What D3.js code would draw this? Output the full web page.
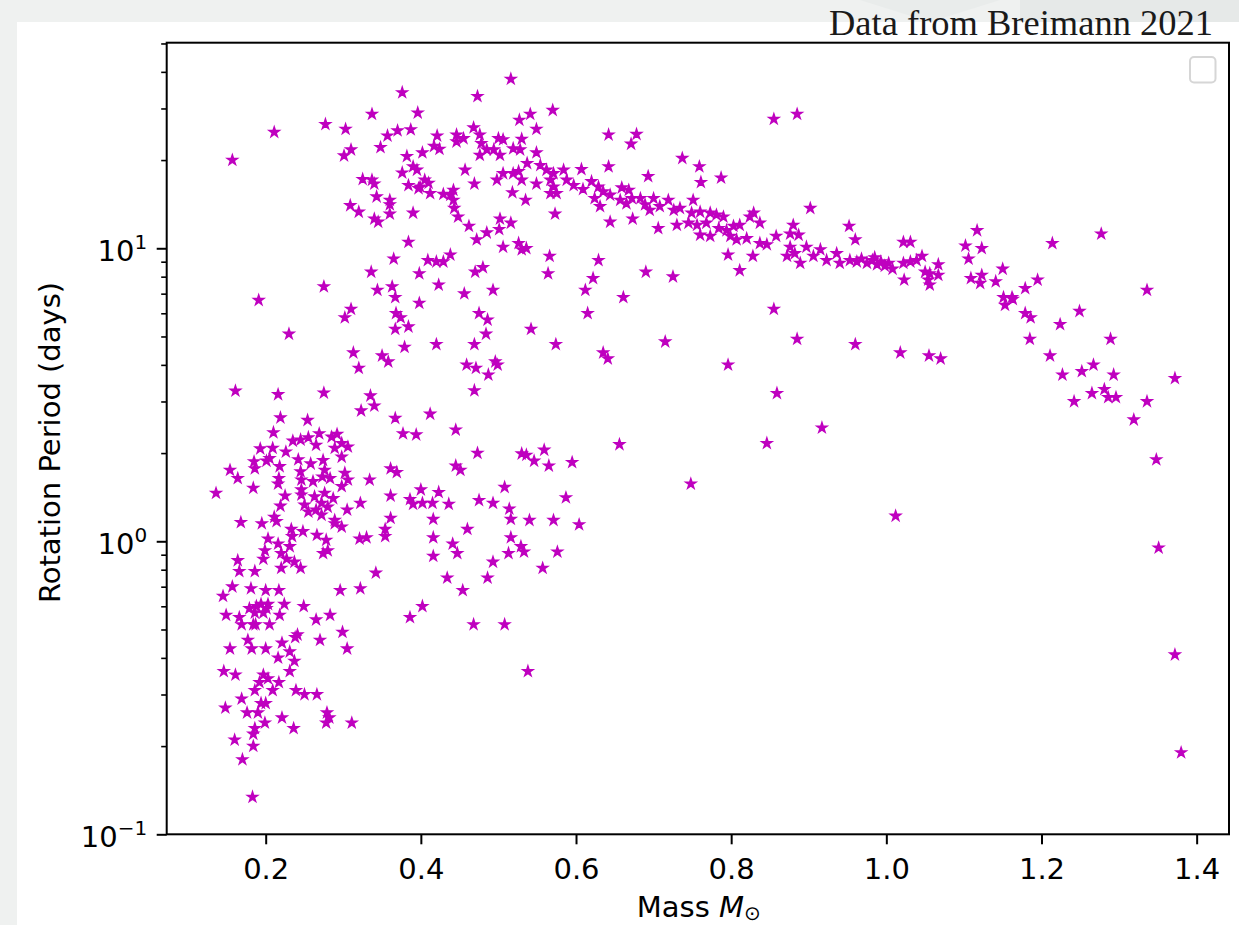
<!DOCTYPE html>
<html>
<head>
<meta charset="utf-8">
<script src="https://cdn.jsdelivr.net/npm/d3@7"></script>
<style>
body { margin: 0; background: #eff1f0; }
svg { display: block; }
</style>
</head>
<body>
<svg id="chart" width="1239" height="925"></svg>
<script>
// [mass (solar masses), rotation period (days)]
var lowMassStars = [
    [0.161,3.26],[0.216,3.17],[0.275,3.21],[0.335,3.14],[0.340,2.90],[0.323,2.79],[0.219,2.64],[0.254,2.59],
    [0.210,2.35],[0.269,2.33],[0.235,2.20],[0.245,2.22],[0.255,2.26],[0.265,2.13],[0.285,2.27],[0.292,2.32],
    [0.289,2.08],[0.298,2.16],[0.306,2.10],[0.193,2.07],[0.209,2.08],[0.226,2.02],[0.185,1.87],[0.201,1.88],
    [0.205,1.92],[0.242,1.90],[0.258,1.84],[0.274,1.89],[0.276,1.75],[0.298,1.94],[0.154,1.75],[0.164,1.64],
    [0.186,1.77],[0.218,1.80],[0.217,1.64],[0.216,1.57],[0.245,1.73],[0.246,1.62],[0.273,1.66],[0.283,1.64],
    [0.302,1.71],[0.306,1.62],[0.298,1.54],[0.334,1.62],[0.136,1.46],[0.184,1.52],[0.225,1.43],[0.246,1.50],
    [0.261,1.60],[0.246,1.44],[0.263,1.42],[0.276,1.46],[0.272,1.35],[0.287,1.40],[0.280,1.31],[0.322,1.35],
    [0.219,1.32],[0.250,1.33],[0.255,1.26],[0.265,1.28],[0.272,1.23],[0.289,1.18],[0.305,1.28],[0.168,1.16],
    [0.195,1.15],[0.211,1.21],[0.214,1.17],[0.233,1.10],[0.248,1.08],[0.289,1.15],[0.298,1.12],[0.266,1.05],
    [0.278,1.01],[0.203,1.02],[0.216,0.98],[0.234,1.04],[0.231,0.96],[0.199,0.93],[0.197,0.87],[0.220,0.91],
    [0.227,0.87],[0.237,0.85],[0.220,0.81],[0.245,0.81],[0.274,0.91],[0.280,0.93],[0.321,1.02],[0.330,1.03],
    [0.164,0.86],[0.166,0.79],[0.186,0.79],[0.342,0.78],[0.157,0.70],[0.181,0.69],[0.200,0.68],[0.217,0.68],
    [0.145,0.65],[0.296,0.68],[0.322,0.69]
];

var fastStars = [
    [0.179,0.59],[0.188,0.60],[0.194,0.61],[0.201,0.59],[0.197,0.57],[0.186,0.57],[0.203,0.61],[0.224,0.61],
    [0.249,0.60],[0.149,0.56],[0.166,0.55],[0.169,0.52],[0.184,0.52],[0.187,0.52],[0.205,0.52],[0.218,0.56],
    [0.265,0.54],[0.283,0.56],[0.299,0.49],[0.305,0.43],[0.270,0.46],[0.238,0.47],[0.241,0.48],[0.221,0.45],
    [0.177,0.46],[0.154,0.43],[0.182,0.43],[0.200,0.43],[0.216,0.40],[0.231,0.42],[0.237,0.39],[0.231,0.36],
    [0.146,0.36],[0.161,0.35],[0.197,0.35],[0.192,0.33],[0.203,0.34],[0.217,0.33],[0.209,0.31],[0.186,0.31],
    [0.239,0.31],[0.250,0.30],[0.266,0.30],[0.169,0.29],[0.194,0.28],[0.200,0.28],[0.148,0.27],[0.176,0.26],
    [0.190,0.26],[0.221,0.25],[0.199,0.24],[0.279,0.26],[0.282,0.25],[0.278,0.24],[0.311,0.24],[0.236,0.23],
    [0.186,0.23],[0.184,0.22],[0.160,0.21],[0.184,0.20],[0.170,0.18],[0.183,0.134],[0.538,0.36]
];

var slowStars = [
    [0.516,37.8],[0.376,34.0],[0.473,33.0],[0.337,28.7],[0.396,29.0],[0.570,29.6],[0.277,26.5],[0.303,25.5],
    [0.541,28.7],[0.527,27.4],[0.549,25.5],[0.357,24.2],[0.370,25.2],[0.387,25.4],[0.421,24.2],[0.468,25.8],
    [0.446,24.4],[0.455,23.7],[0.446,23.1],[0.476,24.4],[0.478,22.8],[0.500,23.7],[0.506,23.5],[0.530,23.6],
    [0.494,21.7],[0.502,20.8],[0.519,21.9],[0.528,21.7],[0.549,21.2],[0.348,22.1],[0.310,21.7],[0.301,20.7],
    [0.402,21.2],[0.417,22.3],[0.424,21.8],[0.382,20.6],[0.476,20.8],[0.485,21.7],[0.390,19.0],[0.395,18.5],
    [0.376,18.1],[0.457,18.5],[0.537,19.5],[0.554,19.2],[0.562,18.5],[0.571,18.0],[0.506,18.0],[0.519,18.0],
    [0.526,18.3],[0.498,17.1],[0.530,17.1],[0.549,16.6],[0.567,17.1],[0.571,16.2],[0.575,15.4],[0.567,15.4],
    [0.325,17.2],[0.337,17.1],[0.340,16.6],[0.384,16.4],[0.399,16.2],[0.405,17.1],[0.410,16.7],[0.397,16.0],
    [0.412,15.4],[0.429,15.3],[0.442,15.8],[0.438,15.2],[0.442,14.6],[0.469,16.6],[0.518,15.5],[0.535,14.6],
    [0.343,15.0],[0.360,14.6],[0.360,14.1],[0.309,14.0],[0.320,13.3],[0.340,12.6],[0.345,12.3],[0.360,13.1],
    [0.390,13.2],[0.443,13.7],[0.448,12.8],[0.462,11.9],[0.472,10.7],[0.485,11.3],[0.502,12.6],[0.501,11.6],
    [0.516,12.2],[0.573,13.1],[0.384,10.5],[0.506,10.1],[0.526,10.4],[0.530,9.9],[0.536,10.0],[0.566,9.4],
    [0.365,9.2],[0.409,9.1],[0.420,9.0],[0.429,9.0],[0.438,9.5],[0.336,8.3],[0.398,8.2],[0.470,8.3],
    [0.480,8.6],[0.564,8.2],[0.275,7.4],[0.344,7.2],[0.363,7.4],[0.423,7.5],[0.157,20.0],[0.211,24.9]
];

var sequenceStars = [
    [0.855,27.6],[0.885,28.7],[0.642,24.4],[0.678,24.5],[0.671,22.7],[0.737,20.3],[0.759,19.0],[0.642,19.0],
    [0.607,18.6],[0.584,18.5],[0.693,17.6],[0.787,17.4],[0.761,16.8],[0.588,17.1],[0.597,16.4],[0.609,15.9],
    [0.620,16.9],[0.629,16.2],[0.635,15.6],[0.644,15.2],[0.624,14.8],[0.631,13.9],[0.659,16.1],[0.668,15.8],
    [0.657,14.6],[0.665,14.2],[0.672,14.8],[0.683,14.8],[0.689,14.1],[0.700,14.8],[0.695,13.5],[0.708,13.9],
    [0.719,14.6],[0.726,13.5],[0.734,13.7],[0.751,14.6],[0.749,13.2],[0.760,13.3],[0.773,13.2],[0.781,13.0],
    [0.790,12.8],[0.706,11.7],[0.730,12.0],[0.745,12.2],[0.756,12.0],[0.768,12.2],[0.760,11.1],[0.773,11.0],
    [0.784,11.7],[0.794,11.5],[0.803,11.9],[0.811,12.0],[0.824,12.8],[0.829,13.2],[0.837,12.2],[0.799,11.0],
    [0.807,10.7],[0.820,10.8],[0.837,10.4],[0.846,10.3],[0.858,11.0],[0.644,12.3],[0.673,12.6],[0.902,13.7],
    [0.880,12.0],[0.876,11.2],[0.887,11.1],[0.876,10.1],[0.872,9.4],[0.882,9.6],[0.889,8.9],[0.897,10.1],
    [0.906,9.4],[0.915,9.9],[0.923,9.1],[0.936,9.6],[0.940,8.9],[0.953,9.1],[0.962,9.0],[0.952,11.9],
    [0.960,10.7],[0.796,9.5],[0.828,9.4],[0.811,8.4],[0.629,9.1],[0.622,7.9],[0.690,8.3],[0.725,8.0],
    [0.855,6.2],[0.885,4.9],[0.960,4.7],[0.968,9.2],[0.975,8.9],[0.982,9.1],[0.988,8.8],[0.993,9.0],
    [0.998,8.7],[1.003,8.9],[0.985,9.3],[1.008,8.5]
];

var highMassStars = [
    [1.022,10.5],[1.031,10.5],[1.022,8.9],[1.031,9.0],[1.039,9.1],[1.046,9.4],[1.067,8.8],[1.067,8.1],
    [1.050,8.3],[1.056,8.2],[1.054,7.8],[1.056,7.5],[1.023,7.8],[1.117,11.5],[1.102,10.2],[1.123,10.0],
    [1.106,9.2],[1.109,7.9],[1.123,8.1],[1.121,7.6],[1.141,7.7],[1.150,8.5],[1.214,10.4],[1.277,11.2],
    [1.336,7.2],[1.179,7.3],[1.195,7.8],[1.151,6.8],[1.162,6.8],[1.153,6.4],[1.163,6.7],[1.179,6.0],
    [1.186,5.8],[1.224,5.5],[1.249,6.1],[1.185,4.9],[1.289,4.9],[1.211,4.3],[1.227,3.7],[1.252,3.8],
    [1.267,4.0],[1.293,3.7],[1.372,3.6],[1.265,3.2],[1.281,3.3],[1.286,3.1],[1.296,3.1],[1.242,3.0],
    [1.336,3.0],[1.319,2.6],[1.348,1.9],[1.055,4.3],[1.070,4.2],[1.018,4.4],[1.012,1.22],[1.351,0.95],
    [1.372,0.41],[1.380,0.19]
];

var midStars = [
    [0.367,6.8],[0.398,6.5],[0.456,7.0],[0.493,7.2],[0.612,7.2],[0.661,6.8],[0.368,6.0],[0.374,5.8],
    [0.367,5.3],[0.384,5.4],[0.475,6.0],[0.486,5.7],[0.484,5.1],[0.615,6.0],[0.542,5.3],[0.574,4.7],
    [0.715,4.8],[0.420,4.7],[0.379,4.6],[0.469,4.7],[0.350,4.3],[0.358,4.1],[0.459,4.0],[0.471,3.9],
    [0.496,4.1],[0.499,4.0],[0.487,3.7],[0.635,4.4],[0.641,4.2],[0.469,3.27],[0.367,2.63],[0.412,2.72],
    [0.377,2.33],[0.394,2.31],[0.445,2.40],[0.473,2.00],[0.656,2.14],[0.530,1.99],[0.536,1.97],[0.546,1.88],
    [0.559,2.05],[0.565,1.81],[0.595,1.86],[0.361,1.77],[0.369,1.72],[0.445,1.81],[0.451,1.75],[0.748,1.57],
    [0.508,1.53],[0.587,1.41],[0.361,1.43],[0.400,1.50],[0.423,1.47],[0.386,1.39],[0.390,1.34],[0.402,1.35],
    [0.415,1.35],[0.436,1.34],[0.475,1.38],[0.493,1.35],[0.514,1.29],[0.516,1.19],[0.540,1.18],[0.571,1.18],
    [0.604,1.14],[0.361,1.20],[0.416,1.19],[0.354,1.10],[0.354,1.04],[0.416,1.03],[0.460,1.10],[0.516,1.03],
    [0.441,0.98],[0.447,0.91],[0.416,0.89],[0.513,0.91],[0.529,0.96],[0.533,0.92],[0.576,0.92],[0.493,0.85],
    [0.557,0.81],[0.434,0.75],[0.486,0.75],[0.454,0.68],[0.402,0.60],[0.386,0.55],[0.468,0.52],[0.508,0.52],
    [0.191,6.65],[0.230,5.1],[0.302,5.8],[0.310,6.2],[0.313,4.4],[0.320,3.9],[0.846,2.16],[0.859,3.2],
    [0.796,4.0],[0.917,2.44]
];

var xTicks = [0.2, 0.4, 0.6, 0.8, 1.0, 1.2, 1.4];
var yMajorTicks = [0.1, 1, 10];
var yExponents = ["\u22121", "0", "1"];
var yMinorTicks = [0.2, 0.3, 0.4, 0.5, 0.6, 0.7, 0.8, 0.9, 2, 3, 4, 5, 6, 7, 8, 9, 20, 30, 40, 50];

var stars = [].concat(lowMassStars, fastStars, slowStars, sequenceStars, highMassStars, midStars);

var svg = d3.select("#chart");

// page background and figure area
svg.append("rect").attr("x", 0).attr("y", 0).attr("width", 1239).attr("height", 925).attr("fill", "#eff1f0");
svg.append("rect").attr("x", 1020).attr("y", 0).attr("width", 219).attr("height", 22).attr("fill", "#e6e9e8");
svg.append("path").attr("d", "M860,0 L930,22 L1000,0 Z").attr("fill", "#e9eceb");
svg.append("rect").attr("x", 17).attr("y", 22).attr("width", 1222).attr("height", 903).attr("fill", "#fff");

var plotLeft = 166.7, plotRight = 1229, plotTop = 42.7, plotBottom = 834.3;

var x = d3.scaleLinear().domain([0.0724, 1.4417]).range([plotLeft, plotRight]);
var y = d3.scaleLog().domain([0.1, 50.3]).range([plotBottom, plotTop]);

var fontSans = "'DejaVu Sans', sans-serif";
var labelSize = 29;

// star markers
var starPath = d3.symbol().type(d3.symbolStar).size(31)();
svg.append("g")
    .selectAll("path")
    .data(stars)
    .enter().append("path")
    .attr("d", starPath)
    .attr("transform", function(d) { return "translate(" + x(d[0]) + "," + y(d[1]) + ")"; })
    .attr("fill", "#bf00bf")
    .attr("stroke", "#bf00bf")
    .attr("stroke-width", 1.5)
    .attr("stroke-linejoin", "miter");

// x axis
var xAxis = svg.append("g")
    .attr("transform", "translate(0," + plotBottom + ")")
    .call(d3.axisBottom(x).tickValues(xTicks).tickSize(10).tickPadding(14.5).tickFormat(d3.format(".1f")));
xAxis.select(".domain").remove();
xAxis.selectAll("line").attr("stroke", "#000").attr("stroke-width", 2);
xAxis.selectAll("text").attr("font-family", fontSans).attr("font-size", labelSize).attr("fill", "#000");

// y axis, minor then major
var yMinor = svg.append("g")
    .attr("transform", "translate(" + plotLeft + ",0)")
    .call(d3.axisLeft(y).tickValues(yMinorTicks).tickSize(5.5).tickFormat(""));
yMinor.select(".domain").remove();
yMinor.selectAll("line").attr("stroke", "#000").attr("stroke-width", 1.6);

var yAxis = svg.append("g")
    .attr("transform", "translate(" + plotLeft + ",0)")
    .call(d3.axisLeft(y).tickValues(yMajorTicks).tickSize(10).tickFormat(""));
yAxis.select(".domain").remove();
yAxis.selectAll("line").attr("stroke", "#000").attr("stroke-width", 2);
yAxis.selectAll(".tick text").remove();
yAxis.selectAll(".tick").each(function(d, i) {
    var t = d3.select(this).append("text")
        .attr("x", -19.5)
        .attr("y", 12.5)
        .attr("text-anchor", "end")
        .attr("font-family", fontSans)
        .attr("fill", "#000");
    t.append("tspan").attr("font-size", labelSize).text("10");
    t.append("tspan").attr("font-size", 20).attr("dy", -12).text(yExponents[i]);
});

// frame
svg.append("rect")
    .attr("x", plotLeft).attr("y", plotTop)
    .attr("width", plotRight - plotLeft).attr("height", plotBottom - plotTop)
    .attr("fill", "none").attr("stroke", "#000").attr("stroke-width", 2);

// empty legend
svg.append("rect")
    .attr("x", 1190).attr("y", 57).attr("width", 25.5).attr("height", 25.5)
    .attr("rx", 4).attr("fill", "#fff").attr("stroke", "#d6d6d6").attr("stroke-width", 2);

// axis labels
var xl = svg.append("text")
    .attr("x", (plotLeft + plotRight) / 2 + 1)
    .attr("y", 917)
    .attr("text-anchor", "middle")
    .attr("font-family", fontSans)
    .attr("font-size", labelSize)
    .attr("fill", "#000");
xl.append("tspan").text("Mass ");
xl.append("tspan").attr("font-style", "italic").text("M");
xl.append("tspan").attr("font-size", 20).attr("dy", 3).text("\u2299");

svg.append("text")
    .attr("transform", "translate(60," + ((plotTop + plotBottom) / 2 + 4) + ") rotate(-90)")
    .attr("text-anchor", "middle")
    .attr("font-family", fontSans)
    .attr("font-size", labelSize)
    .attr("fill", "#000")
    .text("Rotation Period (days)");

// credit line
svg.append("text")
    .attr("x", 1213)
    .attr("y", 35)
    .attr("text-anchor", "end")
    .attr("font-family", "'Liberation Serif', 'DejaVu Serif', serif")
    .attr("font-size", 35)
    .attr("textLength", 384)
    .attr("lengthAdjust", "spacingAndGlyphs")
    .attr("fill", "#1a1a1a")
    .text("Data from Breimann 2021");
</script>
</body>
</html>
